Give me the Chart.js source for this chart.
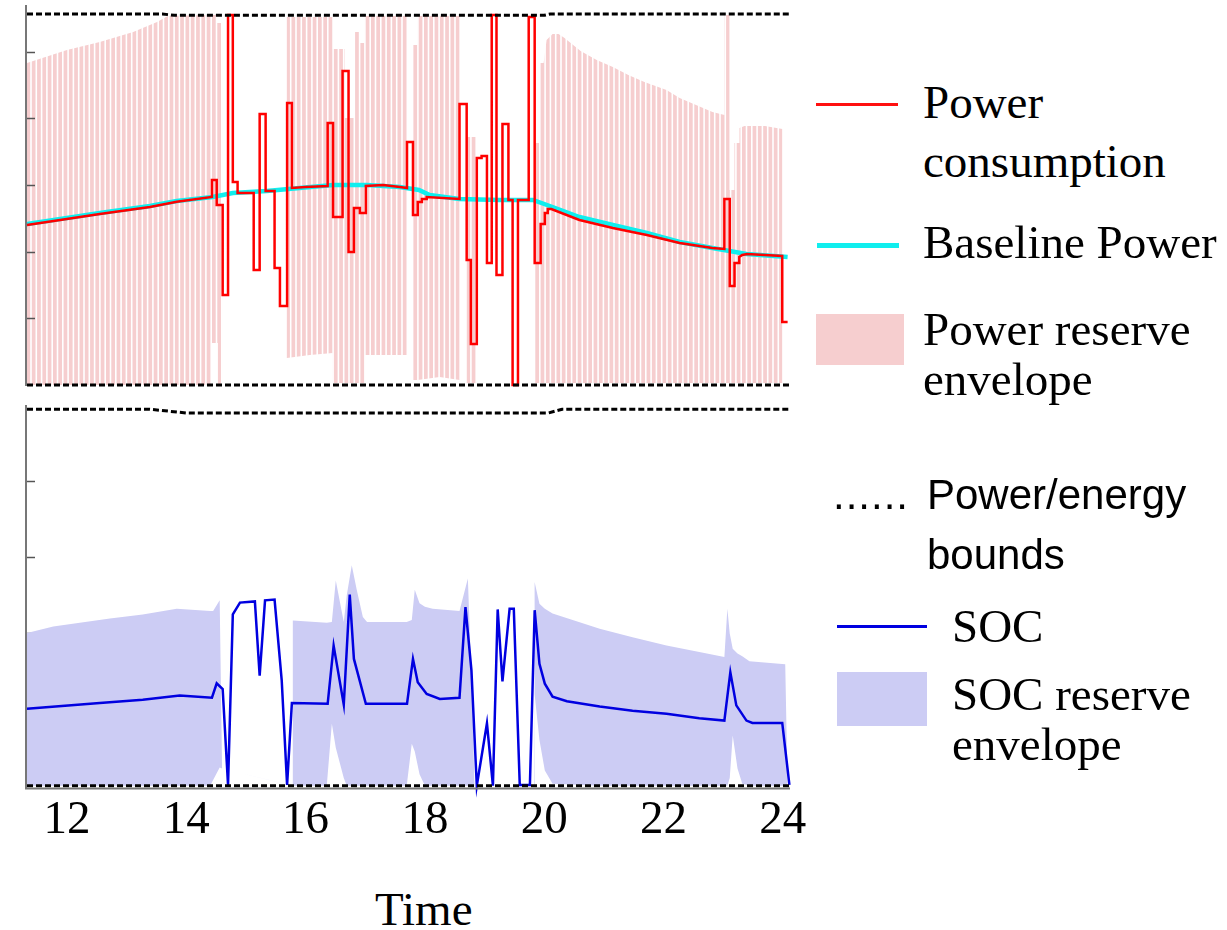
<!DOCTYPE html>
<html>
<head>
<meta charset="utf-8">
<script src="https://cdn.jsdelivr.net/npm/chart.js"></script>
<style>
  body { margin: 0; background: #fff; }
  #page { position: relative; width: 1227px; height: 930px; overflow: hidden; }
  canvas { position: absolute; left: 0; }
  #powerChart { top: 0; }
  #socChart { top: 395px; }
  .serif { position: absolute; font-family: "Liberation Serif", "Times New Roman", serif; font-size: 47px; line-height: 47px; color: #000; white-space: nowrap; }
  .sans { position: absolute; font-family: "Liberation Sans", Arial, sans-serif; font-size: 42px; line-height: 42px; color: #000; white-space: nowrap; }
  .key { position: absolute; }
</style>
</head>
<body>
<div id="page">
  <canvas id="powerChart" width="840" height="395"></canvas>
  <canvas id="socChart" width="840" height="462"></canvas>

  <div class="key" style="left:816px; top:103px; width:82px; height:3px; background:#ff1010;"></div>
  <div class="serif" style="left:923px; top:79px;">Power</div>
  <div class="serif" style="left:923px; top:138px;">consumption</div>

  <div class="key" style="left:817px; top:243px; width:82px; height:5px; background:#10eeee;"></div>
  <div class="serif" style="left:923px; top:219px;">Baseline Power</div>

  <div class="key" style="left:816px; top:314px; width:88px; height:51px; background:rgb(246,206,207);"></div>
  <div class="serif" style="left:923px; top:306px;">Power reserve</div>
  <div class="serif" style="left:923px; top:356px;">envelope</div>

  <div class="sans" style="left:833px; top:474px; letter-spacing:1px;">......</div>
  <div class="sans" style="left:927px; top:474px;">Power/energy</div>
  <div class="sans" style="left:927px; top:534px;">bounds</div>

  <div class="key" style="left:837px; top:625px; width:90px; height:3px; background:#0000e0;"></div>
  <div class="serif" style="left:952px; top:603px;">SOC</div>

  <div class="key" style="left:837px; top:672px; width:90px; height:54px; background:rgb(204,204,244);"></div>
  <div class="serif" style="left:952px; top:671px;">SOC reserve</div>
  <div class="serif" style="left:952px; top:721px;">envelope</div>

  <div class="serif" style="left:375px; top:886px;">Time</div>
</div>

<script>
// axis ticks
const timeTicks = [12, 14, 16, 18, 20, 22, 24];
const powerTicks = [20, 40, 60, 80, 100];
const socTicks = [20, 40, 60, 80];

// [time, value]
const powerUpper = [[11.33, 111.3], [13.6, 111.3], [13.8, 110.9], [20.0, 110.9], [20.1, 111.3], [24.12, 111.3]];
const powerLower = [[11.33, 0], [24.12, 0]];
const socUpper = [[11.33, 98.9], [13.39, 98.9], [14.0, 97.9], [20.07, 97.9], [20.3, 98.9], [24.12, 98.9]];
const socLower = [[11.33, 0], [24.12, 0]];

const baseline = [
  [11.33, 48.3], [12.55, 51.6], [13.39, 53.7], [13.84, 55.2], [14.44, 56.4], [14.78, 57.6],
  [15.35, 58.2], [15.90, 59.1], [16.46, 60.0], [17.03, 60.0], [17.58, 59.4], [17.90, 58.5],
  [18.08, 57.0], [18.58, 55.8], [19.25, 55.5], [19.81, 55.5], [20.14, 53.4], [20.59, 50.4],
  [21.15, 48.0], [21.72, 45.6], [22.27, 42.9], [22.82, 41.1], [23.39, 39.3], [24.08, 38.4]
];

const consumption = [
  [11.33, 48.0], [12.55, 51.3], [13.39, 53.4], [13.84, 55.0], [14.43, 56.4],
  [14.43, 61.5], [14.51, 61.5], [14.51, 54.0], [14.61, 54.0], [14.61, 27.0], [14.70, 27.0],
  [14.70, 111.0], [14.78, 111.0], [14.78, 60.9], [14.86, 60.9], [14.86, 57.6], [15.13, 57.6],
  [15.13, 34.5], [15.23, 34.5], [15.23, 81.3], [15.33, 81.3], [15.33, 58.2], [15.48, 58.2],
  [15.48, 35.1], [15.57, 35.1], [15.57, 23.7], [15.69, 23.7], [15.69, 84.6], [15.77, 84.6],
  [15.77, 59.1], [16.00, 59.4], [16.37, 59.7],
  [16.37, 78.6], [16.46, 78.6], [16.46, 50.4], [16.62, 50.4], [16.62, 94.2], [16.72, 94.2],
  [16.72, 39.9], [16.81, 39.9], [16.81, 53.1], [16.91, 53.1], [16.91, 51.6], [17.01, 51.6],
  [17.01, 59.7], [17.30, 60.0], [17.58, 59.4], [17.70, 59.1],
  [17.70, 72.9], [17.80, 72.9], [17.80, 51.0], [17.88, 51.0], [17.88, 54.9], [17.95, 54.9],
  [17.95, 55.8], [18.03, 55.8], [18.03, 56.4], [18.58, 55.8],
  [18.58, 84.3], [18.70, 84.3], [18.70, 37.5], [18.77, 37.5], [18.77, 12.3], [18.87, 12.3],
  [18.87, 68.1], [18.95, 68.1], [18.95, 68.7], [19.04, 68.7], [19.04, 36.6], [19.12, 36.6],
  [19.12, 111.0], [19.20, 111.0], [19.20, 33.0], [19.30, 33.0], [19.30, 78.3], [19.40, 78.3],
  [19.40, 55.5], [19.47, 55.5], [19.47, 0], [19.56, 0], [19.56, 55.5], [19.74, 55.5],
  [19.74, 110.4], [19.84, 110.4], [19.84, 36.6], [19.94, 36.6], [19.94, 48.3], [20.01, 48.3],
  [20.01, 51.6], [20.06, 51.6], [20.06, 52.8], [20.12, 52.8], [20.59, 49.5], [21.15, 47.1],
  [21.72, 45.0], [22.27, 42.6], [22.82, 41.1], [23.02, 40.8],
  [23.02, 55.8], [23.11, 55.8], [23.11, 29.7], [23.19, 29.7], [23.19, 36.6], [23.27, 36.6],
  [23.27, 38.4], [23.32, 39.0], [23.40, 39.3], [23.99, 38.7], [23.99, 18.9], [24.08, 18.9]
];

// [time, top, bottom] of the power reserve band
const reserveEnvelope = [
  [11.33, 96.6, 0], [12.00, 100.5, 0], [12.55, 102.9, 0], [13.11, 105.9, 0], [13.51, 108.9, 0],
  [13.69, 110.7, 0], [14.43, 111.0, 0], [14.43, 111.0, 12.6], [14.50, 111.0, 12.6],
  [14.50, 108.6, 12.6], [14.53, 108.6, 12.6], [14.53, 108.6, 0], [14.60, 108.6, 0],
  [14.60, 0, 0], [15.685, 0, 0],
  [15.685, 110.4, 8.1], [16.07, 110.4, 9.0], [16.456, 110.4, 9.6],
  [16.456, 100.8, 0.6], [16.657, 100.8, 0.6], [16.657, 80.1, 0.6], [16.824, 80.1, 0.6],
  [16.824, 105.9, 0.6], [16.908, 105.9, 0.6], [16.908, 102.6, 0.6], [16.992, 102.6, 0.6],
  [16.992, 110.7, 9.0], [17.712, 110.7, 9.0], [17.712, 9.0, 9.0], [17.796, 9.0, 9.0],
  [17.796, 102.0, 1.5], [17.879, 102.0, 1.5], [17.879, 110.7, 1.5], [18.248, 110.7, 2.4],
  [18.583, 110.7, 1.5], [18.583, 1.5, 1.5], [18.70, 1.5, 1.5],
  [18.70, 74.4, 0.6], [18.868, 74.4, 0.6], [18.868, 0.6, 0.6], [19.839, 0.6, 0.6],
  [19.839, 72.6, 0.6], [19.923, 72.6, 0.6], [19.923, 96.6, 0.6], [19.99, 96.6, 0.6],
  [20.04, 103.5, 0.6], [20.14, 105.3, 0.6], [20.24, 105.3, 0.6], [20.34, 104.1, 0.6],
  [20.61, 100.2, 0.6], [20.88, 97.5, 0.6], [21.15, 95.4, 0.6], [21.41, 93.0, 0.6],
  [21.68, 90.9, 0.6], [22.05, 88.5, 0.6], [22.27, 86.1, 0.6], [22.82, 81.9, 0.6],
  [23.022, 81.0, 0.6], [23.022, 111.0, 0.6], [23.106, 111.0, 0.6], [23.106, 58.5, 0.6],
  [23.189, 58.5, 0.6], [23.189, 72.6, 0.6], [23.273, 72.6, 0.6], [23.273, 77.1, 0.6],
  [23.357, 77.7, 0.6], [23.70, 77.7, 0.6], [23.993, 76.8, 0.6], [23.993, 0.6, 0.6]
];

const soc = [
  [11.33, 20.2], [12.55, 21.7], [13.27, 22.6], [13.89, 23.7], [14.43, 23.1], [14.51, 26.9],
  [14.61, 25.4], [14.70, 0.2], [14.78, 45.0], [14.90, 48.1], [15.15, 48.4], [15.23, 28.9],
  [15.32, 48.7], [15.48, 48.9], [15.60, 27.6], [15.69, 0.2], [15.77, 21.7], [16.37, 21.5],
  [16.47, 36.8], [16.64, 21.3], [16.74, 50.2], [16.81, 33.3], [17.01, 21.5], [17.70, 21.5],
  [17.80, 33.3], [17.88, 27.2], [18.03, 24.1], [18.25, 22.8], [18.58, 23.1], [18.68, 46.9],
  [18.78, 30.3], [18.87, 0], [19.04, 16.4], [19.14, 0], [19.22, 46.3], [19.30, 27.4],
  [19.42, 46.5], [19.49, 46.5], [19.59, 0.2], [19.76, 0.2], [19.84, 46.1], [19.92, 32.0],
  [20.01, 26.8], [20.14, 23.4], [20.38, 22.2], [20.93, 20.8], [21.48, 19.7], [22.05, 18.9],
  [22.60, 17.7], [23.02, 17.1], [23.12, 29.8], [23.22, 21.1], [23.39, 17.1], [23.49, 16.5],
  [23.99, 16.5], [24.11, 0.2]
];

// [time, top, bottom] of the SOC reserve band
const socEnvelope = [
  [11.33, 40.1, 0], [11.77, 41.8, 0], [12.72, 43.9, 0], [13.27, 45.0, 0], [13.84, 46.5, 0],
  [14.40, 45.9, 0], [14.45, 45.9, 1.5], [14.56, 48.7, 4.8], [14.60, 4.5, 4.5], [15.78, 0, 0],
  [15.786, 43.4, 0], [16.355, 42.8, 0], [16.44, 43.0, 16.3], [16.506, 53.9, 10.0],
  [16.64, 43.0, 2.0], [16.69, 50.0, 0], [16.774, 57.9, 0], [16.86, 51.3, 0], [16.96, 44.3, 0],
  [17.03, 43.0, 0], [17.695, 43.0, 0], [17.78, 43.5, 11.0], [17.83, 51.5, 9.0], [17.91, 47.9, 3.0],
  [18.00, 47.0, 0], [18.13, 46.5, 0], [18.58, 45.9, 0], [18.72, 54.4, 0], [18.80, 20.0, 0],
  [18.83, 0, 0], [19.83, 0, 0], [19.839, 53.5, 24.0], [19.92, 47.8, 12.0], [20.01, 46.5, 4.0],
  [20.14, 45.2, 0.5], [20.93, 41.2, 0], [21.48, 39.0, 0], [22.05, 36.8, 0], [22.60, 35.1, 0],
  [23.02, 33.8, 0], [23.07, 46.5, 0], [23.11, 40.0, 2.0], [23.16, 36.0, 13.2], [23.24, 34.7, 4.5],
  [23.32, 34.0, 0.5], [23.44, 32.7, 0], [23.94, 32.0, 0], [24.04, 31.9, 0], [24.08, 0, 0]
];

const xy = rows => rows.map(r => ({ x: r[0], y: r[1] }));
const xyLow = rows => rows.map(r => ({ x: r[0], y: r[2] }));

// thin vertical pink stripes for the reserve band
function stripePattern() {
  const tile = document.createElement('canvas');
  tile.width = 53;
  tile.height = 8;
  const t = tile.getContext('2d');
  t.fillStyle = 'rgb(246, 206, 207)';
  for (let i = 0; i < 10; i++) t.fillRect(i * 5.3, 0, 3.7, 8);
  return t.createPattern(tile, 'repeat');
}

function drawTickMarks(chart, values) {
  const { ctx, chartArea: a, scales: { y } } = chart;
  ctx.save();
  ctx.strokeStyle = '#555';
  ctx.lineWidth = 1.5;
  values.forEach(v => {
    const py = Math.round(y.getPixelForValue(v)) + 0.5;
    ctx.beginPath();
    ctx.moveTo(a.left, py);
    ctx.lineTo(a.left + 8, py);
    ctx.stroke();
  });
  ctx.restore();
}

// left axis line, inward tick marks, optional bottom axis line
const axisFrame = {
  id: 'axisFrame',
  beforeDatasetsDraw(chart, args, opts) {
    if (!opts.ticksOnTop) drawTickMarks(chart, opts.ticks);
  },
  afterDatasetsDraw(chart, args, opts) {
    if (opts.ticksOnTop) drawTickMarks(chart, opts.ticks);
    const { ctx, chartArea: a } = chart;
    ctx.save();
    ctx.strokeStyle = '#777';
    ctx.lineWidth = 2;
    ctx.beginPath();
    ctx.moveTo(a.left - 1, a.top);
    ctx.lineTo(a.left - 1, a.bottom + 1);
    if (opts.bottomLine) ctx.lineTo(a.right, a.bottom + 1);
    ctx.stroke();
    ctx.restore();
  }
};

const boundStyle = { borderColor: '#000', borderWidth: 3, borderDash: [6, 3], pointRadius: 0, order: 0, clip: false, fill: false };
const bandStyle = { borderWidth: 0, borderColor: 'rgba(0,0,0,0)', pointRadius: 0 };

const common = {
  responsive: false,
  animation: false,
  events: [],
  elements: { line: { tension: 0 } },
  plugins: { legend: { display: false }, tooltip: { enabled: false } }
};

new Chart(document.getElementById('powerChart'), {
  type: 'line',
  data: {
    datasets: [
      { ...boundStyle, label: 'Power upper bound', data: xy(powerUpper) },
      { ...boundStyle, label: 'Power lower bound', data: xy(powerLower) },
      { label: 'Power consumption', data: xy(consumption), borderColor: '#ff0000', borderWidth: 2.5, pointRadius: 0, order: 1, clip: false, fill: false },
      { label: 'Baseline Power', data: xy(baseline), borderColor: '#10eeee', borderWidth: 4.5, pointRadius: 0, order: 2, fill: false },
      { ...bandStyle, label: 'Power reserve envelope', data: xy(reserveEnvelope), fill: '+1', backgroundColor: stripePattern(), order: 5 },
      { ...bandStyle, label: 'reserve floor', data: xyLow(reserveEnvelope), fill: false, order: 6 }
    ]
  },
  options: {
    ...common,
    layout: { padding: { left: 27, right: 50, top: 5, bottom: 10 } },
    scales: {
      x: { type: 'linear', min: 11.33, max: 24.12, display: false },
      y: { min: 0, max: 114, display: false }
    },
    plugins: { ...common.plugins, axisFrame: { ticks: powerTicks, ticksOnTop: true, bottomLine: false } }
  },
  plugins: [axisFrame]
});

new Chart(document.getElementById('socChart'), {
  type: 'line',
  data: {
    datasets: [
      { ...boundStyle, label: 'SOC upper bound', data: xy(socUpper) },
      { ...boundStyle, label: 'SOC lower bound', data: xy(socLower) },
      { label: 'SOC', data: xy(soc), borderColor: '#0000e0', borderWidth: 2.5, pointRadius: 0, order: 1, clip: false, fill: false },
      { ...bandStyle, label: 'SOC reserve envelope', data: xy(socEnvelope), fill: '+1', backgroundColor: 'rgb(204, 204, 244)', order: 5 },
      { ...bandStyle, label: 'SOC floor', data: xyLow(socEnvelope), fill: false, order: 6 }
    ]
  },
  options: {
    ...common,
    layout: { padding: { left: 27, right: 50, top: 10, bottom: 3 } },
    scales: {
      x: {
        type: 'linear', min: 11.33, max: 24.12,
        grid: { display: false, drawTicks: false },
        border: { display: false },
        ticks: { padding: 5, color: '#000', font: { family: '"Liberation Serif", "Times New Roman", serif', size: 47 } },
        afterBuildTicks: s => { s.ticks = timeTicks.map(v => ({ value: v })); },
        afterFit: s => { s.paddingLeft = 0; s.paddingRight = 0; }
      },
      y: { min: -0.5, max: 100, display: false }
    },
    plugins: { ...common.plugins, axisFrame: { ticks: socTicks, ticksOnTop: false, bottomLine: true } }
  },
  plugins: [axisFrame]
});
</script>
</body>
</html>
